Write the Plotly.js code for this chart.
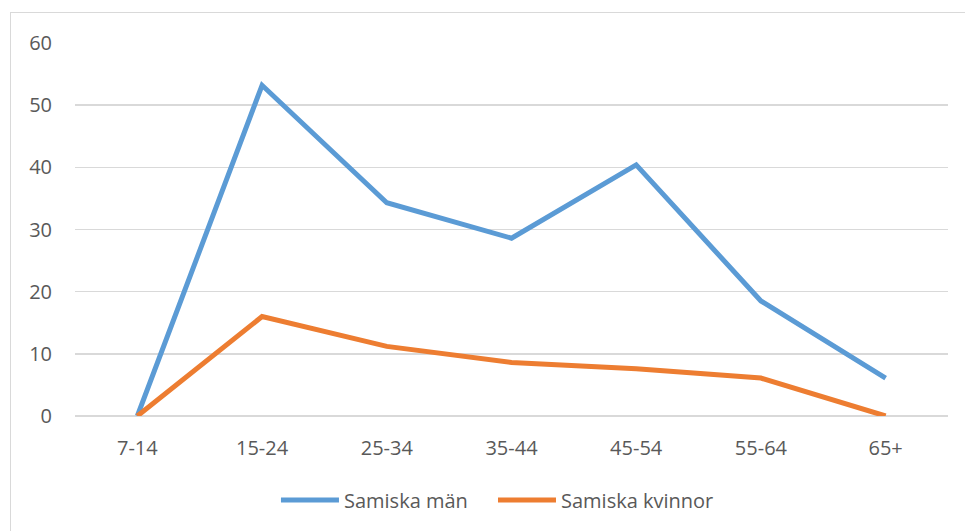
<!DOCTYPE html>
<html>
<head>
<meta charset="utf-8">
<script src="https://cdn.plot.ly/plotly-3.0.1.min.js"></script>
<style>
html,body{margin:0;padding:0;background:#fff;}
#chart{position:absolute;left:10px;top:12px;width:955px;height:519px;border-left:1.5px solid #d9d9d9;border-top:1.5px solid #d9d9d9;box-sizing:border-box;}
</style>
</head>
<body>
<div id="chart"></div>
<script>
const categories = ["7-14", "15-24", "25-34", "35-44", "45-54", "55-64", "65+"];
const samiskaMan = [0, 53.2, 34.3, 28.6, 40.4, 18.5, 6.1];
const samiskaKvinnor = [0, 16.0, 11.2, 8.6, 7.6, 6.1, 0];
const seriesNames = ["Samiska män", "Samiska kvinnor"];
const yTicks = [0, 10, 20, 30, 40, 50, 60];

const font = {family: "Open Sans, Liberation Sans, sans-serif", color: "#595959"};

const traces = [
  {x: categories, y: samiskaMan, name: seriesNames[0], type: "scatter", mode: "lines",
   line: {color: "#5B9BD5", width: 5}, legend: "legend"},
  {x: categories, y: samiskaKvinnor, name: seriesNames[1], type: "scatter", mode: "lines",
   line: {color: "#ED7D31", width: 5}, legend: "legend2"}
];

const legendBase = {orientation: "h", xanchor: "left", y: -0.225, yanchor: "middle",
                    font: Object.assign({size: 20}, font), itemwidth: 58, bgcolor: "rgba(0,0,0,0)"};

const layout = {
  width: 955, height: 519,
  margin: {l: 64, r: 18, t: 30, b: 116},
  paper_bgcolor: "#fff", plot_bgcolor: "#fff",
  font: Object.assign({size: 20}, font),
  showlegend: true,
  legend: Object.assign({x: 0.2302}, legendBase),
  legend2: Object.assign({x: 0.4788}, legendBase),
  xaxis: {type: "category", range: [-0.5, 6.5], showgrid: false, zeroline: false,
          showline: false, ticks: "", ticklabelstandoff: 18,
          tickfont: Object.assign({size: 20}, font)},
  yaxis: {range: [0, 60], tickvals: yTicks, showgrid: true, gridcolor: "#d9d9d9", gridwidth: 1.5,
          zeroline: true, zerolinecolor: "#d9d9d9", zerolinewidth: 1.5, showline: false,
          ticks: "", ticklabelstandoff: 22, tickfont: Object.assign({size: 20}, font)}
};

Plotly.newPlot("chart", traces, layout, {displayModeBar: false, staticPlot: true});
</script>
</body>
</html>
